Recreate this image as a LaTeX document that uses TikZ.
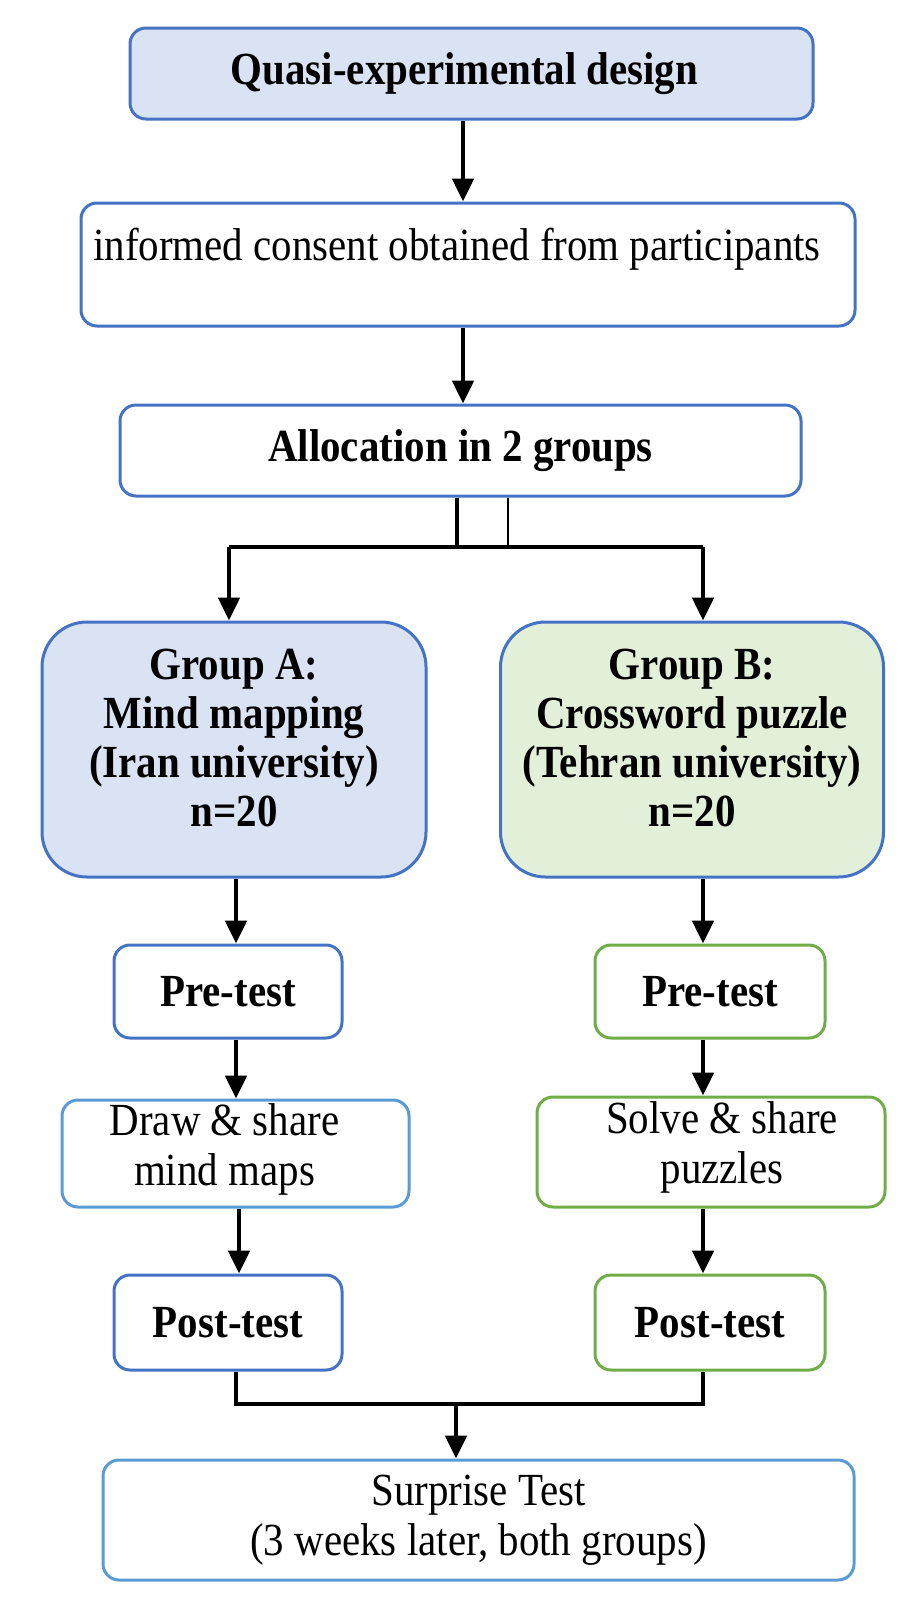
\documentclass[tikz,border=0pt]{standalone}
\usepackage{fontspec}
\setmainfont{Liberation Serif}[FakeStretch=0.89]
\usetikzlibrary{arrows.meta}
\definecolor{bblue}{HTML}{4472C4}
\definecolor{lblue}{HTML}{5B9BD5}
\definecolor{bgreen}{HTML}{70AD47}
\definecolor{fblue}{HTML}{DAE3F3}
\definecolor{fgreen}{HTML}{E2F0D9}
\tikzset{
  box/.style={draw=bblue, line width=3pt, rounded corners=16pt, inner sep=0pt,
    align=center, font=\fontsize{46}{50}\selectfont},
  bbox/.style={box, font=\fontsize{46}{50}\selectfont\bfseries},
  gbox/.style={box, rounded corners=45pt, font=\fontsize{46}{49}\selectfont\bfseries},
  conn/.style={line width=4.8pt, black},
  arr/.style={conn, -{Triangle[length=23pt,width=21pt]}},
}
\begin{document}
\begin{tikzpicture}[x=1pt,y=-1pt]
\fill[white] (0,0) rectangle (922,1620);
\useasboundingbox (0,0) rectangle (922,1620);

\node[bbox, fill=fblue, minimum width=683pt, minimum height=91pt]
  (top) at (471.5,73.5) {Quasi-experimental design\hspace*{14pt}};
\node[box, minimum width=774pt, minimum height=123pt, text height=32pt, text depth=40pt]
  (cons) at (468,264.5) {informed consent obtained from participants\hspace*{22pt}};
\node[bbox, minimum width=681pt, minimum height=91pt]
  (alloc) at (460.5,450.5) {Allocation in 2 groups};

\node[gbox, fill=fblue, minimum width=384pt, minimum height=255pt]
  (ga) at (234,749.5) {Group A:\\Mind mapping\\(Iran university)\\n=20\rule[-23pt]{0pt}{0pt}};
\node[gbox, fill=fgreen, minimum width=383pt, minimum height=255pt]
  (gb) at (692,749.5) {Group B:\\Crossword puzzle\\(Tehran university)\\n=20\rule[-23pt]{0pt}{0pt}};

\node[bbox, minimum width=228pt, minimum height=93pt]
  (prea) at (228,991.5) {Pre-test};
\node[bbox, draw=bgreen, minimum width=230pt, minimum height=93pt]
  (preb) at (710,991.5) {Pre-test};

\node[box, draw=lblue, minimum width=347pt, minimum height=107pt]
  (drawa) at (235.5,1153.5) {Draw \& share\hspace*{22pt}\\mind maps\hspace*{22pt}\rule[-18pt]{0pt}{0pt}};
\node[box, draw=bgreen, minimum width=348pt, minimum height=110pt]
  (solveb) at (711,1152) {\hspace*{22pt}Solve \& share\\\hspace*{22pt}puzzles\rule[-18pt]{0pt}{0pt}};

\node[bbox, minimum width=228pt, minimum height=95pt]
  (posta) at (228,1322.5) {Post-test};
\node[bbox, draw=bgreen, minimum width=230pt, minimum height=95pt]
  (postb) at (710,1322.5) {Post-test};

\node[box, draw=lblue, minimum width=751pt, minimum height=120pt]
  (surp) at (478.5,1520) {Surprise Test\\(3 weeks later, both groups)};

% connector positions
\coordinate (c1) at (463,0);
\coordinate (bj) at (457,547);
\coordinate (bt) at (508,547);
\coordinate (bl) at (229,547);
\coordinate (br) at (703,547);
\coordinate (xa) at (236,0);
\coordinate (xa2) at (239,0);
\coordinate (xb) at (703,0);
\coordinate (jl) at (236,1404);
\coordinate (jr) at (703,1404);
\coordinate (jm) at (456,1404);

\draw[arr] (top.south -| c1) -- (cons.north -| c1);
\draw[arr] (cons.south -| c1) -- (alloc.north -| c1);
\draw[conn] (alloc.south -| bj) -- (bj);
\draw[line width=1.5pt] (alloc.south -| bt) -- (bt);
\draw[conn] (bl) -- (br);
\draw[arr] (bl) -- (ga.north -| bl);
\draw[arr] (br) -- (gb.north -| br);

\draw[arr] (ga.south -| xa) -- (prea.north -| xa);
\draw[arr] (prea.south -| xa) -- (drawa.north -| xa);
\draw[arr] (drawa.south -| xa2) -- (posta.north -| xa2);
\draw[arr] (gb.south -| xb) -- (preb.north -| xb);
\draw[arr] (preb.south -| xb) -- (solveb.north -| xb);
\draw[arr] (solveb.south -| xb) -- (postb.north -| xb);

\draw[conn] (posta.south -| jl) -- (jl) -- (jr) -- (postb.south -| jr);
\draw[arr] (jm) -- (surp.north -| jm);
\end{tikzpicture}
\end{document}
